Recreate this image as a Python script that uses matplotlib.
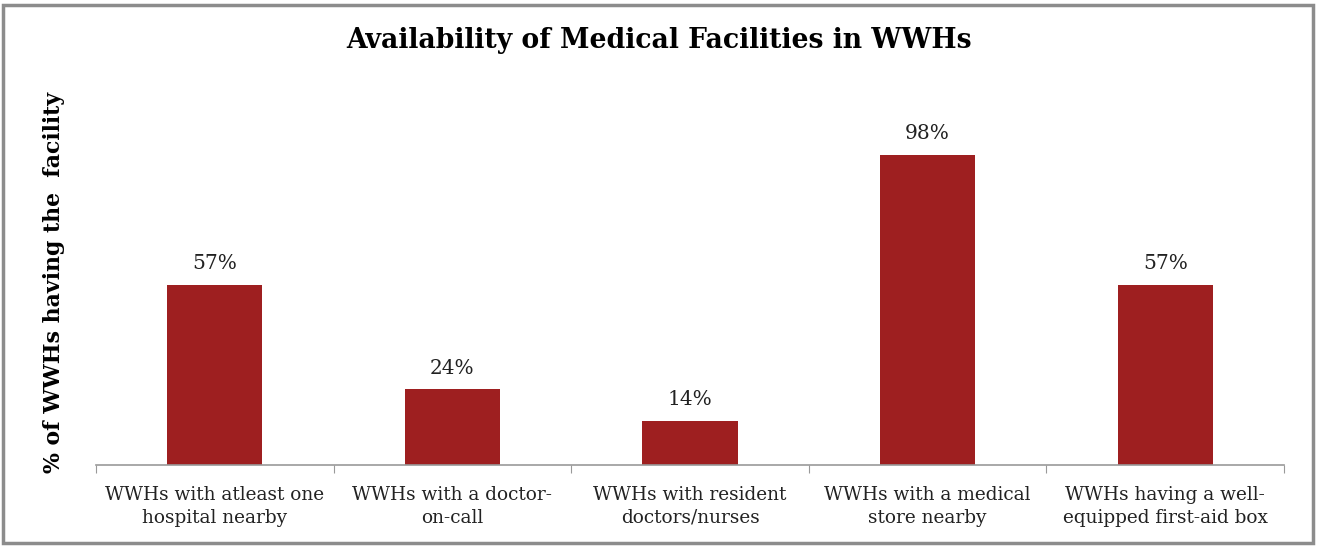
import matplotlib.pyplot as plt
from matplotlib.patches import Rectangle

categories = ["WWHs with atleast one\nhospital nearby",
              "WWHs with a doctor-\non-call",
              "WWHs with resident\ndoctors/nurses",
              "WWHs with a medical\nstore nearby",
              "WWHs having a well-\nequipped first-aid box"]
values = [57, 24, 14, 98, 57]
labels = ["57%", "24%", "14%", "98%", "57%"]

plt.rcParams['font.family'] = ['DejaVu Serif']

fig = plt.figure(figsize=(13.19, 5.47), dpi=100)
ax = fig.add_axes([96/1319, 1-465/547, (1284-96)/1319, (465-85)/547])

x = range(len(values))
ax.bar(x, values, width=0.4, color='#9E1F20')
for i, v in enumerate(values):
    ax.text(i, v + 3.6, labels[i], ha='center', va='bottom', fontsize=14.5, color='#222222')

ax.set_xlim(-0.5, len(values) - 0.5)
ax.set_ylim(0, 120)
ax.set_yticks([])
for s in ['top', 'right', 'left']:
    ax.spines[s].set_visible(False)
ax.spines['bottom'].set_color('#999999')
ax.spines['bottom'].set_linewidth(1.2)

# category separators as major ticks, names on minor ticks
ax.set_xticks([i - 0.5 for i in range(len(values) + 1)], minor=False)
ax.set_xticklabels([])
ax.tick_params(axis='x', which='major', length=6, direction='out', color='#999999')
ax.set_xticks(list(x), minor=True)
ax.set_xticklabels(categories, minor=True, fontsize=13.3, color='#222222', linespacing=1.35)
ax.tick_params(axis='x', which='minor', length=0, pad=15)

fig.text(659/1319, 1-40/547, "Availability of Medical Facilities in WWHs",
         ha='center', va='center', fontsize=19.2, fontweight='bold')
fig.text(54/1319, 1-282/547, "% of WWHs having the  facility", rotation=90,
         ha='center', va='center', fontsize=15.8, fontweight='bold')

fig.patches.append(Rectangle((3/1319, 4/547), 1310/1319, 538/547, transform=fig.transFigure,
                             fill=False, edgecolor='#8c8c8c', linewidth=2.5))

fig.savefig("out.png", dpi=100)
